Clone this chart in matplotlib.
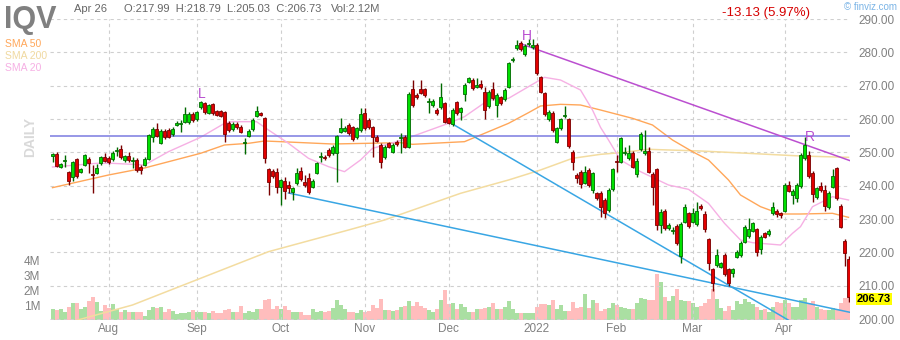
import numpy as np
import pandas as pd
import matplotlib
matplotlib.use('Agg')
import matplotlib.pyplot as plt
from matplotlib.ticker import FormatStrFormatter

plt.rcParams['font.family'] = ['Liberation Sans', 'DejaVu Sans']

# trading days shown on the chart
holidays = ['2021-09-06', '2021-11-25', '2021-12-24', '2022-01-17', '2022-02-21', '2022-04-15']
dates = pd.bdate_range('2021-07-13', '2022-04-26', freq='C', holidays=holidays)

# daily candles
opens = [248.9, 249.5, 245.5, 247.3, 244.1, 242.7, 247.9, 244.2, 246.2, 247.9,
         243.4, 243.9, 246.7, 248.7, 248.3, 247.9, 250.4, 250.9, 247.7, 248.9,
         247.3, 247.7, 245.5, 246.2, 248.0, 254.7, 256.9, 252.9, 256.5, 256.7,
         255.4, 258.2, 258.6, 259.2, 259.0, 261.5, 259.9, 263.5, 264.7, 261.9,
         264.5, 262.3, 262.3, 262.0, 258.9, 256.9, 258.6, 257.7, 252.7, 254.9,
         256.9, 261.0, 261.7, 260.2, 244.9, 244.5, 244.2, 239.7, 241.4, 240.2,
         238.2, 240.7, 244.5, 241.2, 242.2, 239.7, 243.9, 248.6, 248.7, 250.7,
         249.7, 249.9, 256.2, 256.4, 258.2, 257.5, 254.5, 256.7, 261.7, 259.7,
         257.5, 254.7, 252.2, 248.5, 252.7, 250.2, 253.2, 254.4, 254.7, 251.7,
         268.9, 267.2, 268.9, 268.9, 265.1, 264.2, 262.7, 263.5, 264.7, 260.2,
         258.5, 265.0, 262.2, 267.5, 271.2, 271.7, 269.7, 270.4, 268.2, 263.9,
         268.9, 264.2, 266.5, 266.0, 269.7, 277.7, 281.2, 282.9, 279.4, 282.4,
         281.5, 282.2, 272.5, 267.7, 259.9, 261.9, 253.2, 257.2, 260.8, 259.9,
         250.2, 243.2, 244.2, 240.9, 244.7, 238.7, 237.7, 237.9, 235.7, 232.7,
         238.9, 247.4, 247.2, 249.7, 248.2, 249.9, 243.5, 250.9, 249.7, 250.5,
         243.5, 244.9, 228.2, 232.4, 227.2, 226.4, 227.9, 218.9, 229.2, 231.7,
         229.2, 228.5, 233.9, 231.4, 223.9, 214.9, 216.2, 215.7, 219.2, 214.9,
         213.9, 218.7, 219.2, 223.2, 224.9, 226.5, 226.9, 220.9, 225.7, 225.5,
         231.7, 232.5, 231.7, 232.5, 240.2, 237.2, 236.2, 239.9, 248.2, 249.2,
         243.9, 236.5, 239.9, 238.7, 233.5, 239.7, 245.2, 233.9, 223.5, 217.99]
highs = [249.9, 250.0, 246.7, 249.2, 244.5, 247.5, 248.3, 245.3, 249.5, 248.5,
         246.2, 246.5, 249.0, 249.7, 249.0, 250.5, 251.7, 252.2, 249.3, 250.0,
         248.7, 248.2, 246.2, 248.7, 255.6, 257.7, 258.7, 257.0, 257.0, 257.2,
         257.5, 259.3, 259.7, 263.7, 262.0, 262.0, 262.5, 265.3, 265.0, 264.6,
         264.9, 262.8, 262.8, 262.5, 259.5, 259.0, 259.0, 258.2, 254.2, 256.9,
         260.2, 264.0, 262.2, 260.7, 245.3, 245.0, 245.2, 242.0, 242.7, 241.5,
         239.7, 245.2, 245.5, 243.2, 243.7, 242.0, 247.2, 250.2, 249.2, 251.2,
         252.2, 255.2, 260.2, 257.9, 258.7, 258.0, 257.7, 263.2, 263.2, 260.2,
         258.0, 255.2, 252.7, 252.2, 253.2, 252.7, 253.7, 255.7, 255.2, 268.0,
         271.7, 267.7, 271.7, 269.4, 266.2, 265.9, 263.2, 270.7, 265.2, 260.7,
         263.2, 265.5, 263.7, 270.7, 272.7, 272.2, 272.2, 271.7, 269.7, 268.7,
         271.2, 267.7, 267.0, 269.2, 277.2, 278.6, 283.7, 283.4, 282.5, 284.0,
         284.0, 282.7, 273.0, 268.2, 262.7, 262.4, 257.7, 260.4, 263.9, 260.4,
         250.7, 243.7, 244.7, 246.0, 245.2, 244.2, 238.2, 238.4, 236.2, 239.2,
         245.4, 249.2, 254.7, 251.7, 252.2, 250.4, 248.2, 256.2, 256.7, 251.7,
         244.0, 245.4, 233.0, 233.0, 228.7, 227.5, 228.4, 229.2, 234.5, 232.2,
         233.2, 235.2, 234.5, 232.5, 224.4, 215.4, 221.0, 217.2, 219.7, 215.4,
         215.4, 220.7, 223.4, 228.2, 230.2, 229.2, 227.4, 225.2, 226.2, 227.0,
         235.2, 233.0, 232.2, 240.7, 241.5, 239.0, 240.7, 249.7, 254.5, 250.5,
         244.4, 239.7, 241.0, 240.2, 238.4, 244.9, 245.7, 234.4, 223.9, 218.79]
lows = [247.2, 245.5, 245.2, 245.5, 240.2, 241.5, 242.3, 243.8, 245.9, 243.7,
        237.9, 243.4, 246.2, 247.2, 246.5, 247.5, 249.0, 247.9, 247.0, 247.2,
        245.2, 244.2, 243.5, 245.8, 247.7, 253.2, 254.5, 252.5, 254.0, 254.2,
        255.0, 257.8, 256.2, 258.8, 258.5, 259.2, 259.5, 263.0, 261.5, 261.5,
        261.3, 260.8, 260.5, 253.2, 256.2, 256.3, 257.0, 255.7, 249.5, 254.5,
        256.5, 260.5, 260.9, 246.9, 237.2, 242.4, 237.7, 234.2, 236.0, 237.9,
        235.7, 240.2, 241.5, 239.7, 237.5, 239.2, 243.5, 247.2, 247.7, 248.7,
        249.2, 241.2, 255.7, 256.0, 255.2, 253.4, 254.0, 256.2, 256.7, 257.0,
        248.7, 253.0, 245.2, 248.0, 251.2, 249.7, 252.0, 249.7, 251.2, 251.2,
        263.7, 266.0, 267.4, 266.7, 261.7, 263.7, 261.2, 263.0, 258.7, 258.4,
        258.0, 261.2, 259.7, 265.5, 270.7, 268.7, 269.2, 269.0, 259.9, 263.4,
        265.7, 260.7, 264.2, 265.5, 269.2, 277.2, 280.7, 280.4, 279.0, 281.9,
        281.0, 273.2, 267.7, 260.9, 259.4, 256.2, 252.7, 256.7, 260.2, 251.4,
        244.7, 240.7, 239.2, 240.4, 239.7, 237.7, 235.7, 230.7, 230.2, 232.2,
        238.4, 244.2, 246.7, 249.2, 247.7, 245.2, 242.7, 250.4, 249.2, 243.7,
        234.2, 226.7, 225.7, 226.7, 226.7, 225.5, 222.2, 216.7, 228.7, 227.4,
        228.7, 228.0, 232.7, 226.2, 214.7, 208.5, 215.7, 215.2, 213.0, 209.9,
        212.5, 218.2, 218.7, 222.7, 224.4, 226.0, 219.0, 219.4, 224.2, 225.0,
        231.2, 230.7, 230.4, 232.0, 238.0, 234.5, 235.0, 239.4, 247.7, 242.4,
        235.0, 236.0, 238.2, 232.5, 233.0, 239.2, 235.7, 227.2, 216.0, 205.03]
closes = [249.5, 246.0, 246.4, 247.6, 241.5, 247.2, 242.9, 244.9, 249.2, 246.9,
          243.2, 245.2, 248.5, 247.5, 247.0, 249.9, 250.6, 248.5, 248.9, 247.7,
          247.5, 244.7, 244.7, 248.0, 255.2, 256.9, 254.9, 256.5, 254.5, 254.7,
          256.9, 258.9, 258.8, 261.4, 261.4, 259.7, 262.0, 265.0, 262.0, 264.2,
          261.7, 261.3, 260.9, 255.4, 256.7, 258.5, 257.5, 256.2, 253.2, 256.4,
          259.7, 262.4, 261.3, 248.2, 241.2, 242.9, 239.7, 241.7, 238.4, 239.2,
          239.2, 243.9, 241.9, 240.2, 238.2, 241.5, 246.7, 248.8, 248.2, 249.2,
          251.7, 254.9, 257.2, 257.4, 255.7, 253.9, 257.2, 261.4, 257.2, 257.5,
          254.5, 253.5, 247.2, 251.7, 251.7, 252.2, 252.4, 254.6, 251.7, 267.5,
          264.2, 266.5, 267.9, 267.2, 265.3, 265.4, 261.7, 266.5, 259.2, 258.9,
          262.7, 261.7, 263.2, 270.2, 272.2, 269.2, 270.2, 269.5, 262.7, 268.2,
          266.2, 267.2, 264.7, 268.7, 276.7, 278.1, 282.2, 280.9, 282.0, 282.6,
          282.2, 273.7, 268.2, 261.4, 262.2, 256.7, 257.2, 259.9, 261.0, 251.9,
          247.2, 242.2, 240.5, 244.2, 240.2, 243.7, 236.2, 233.7, 231.7, 238.7,
          244.9, 247.0, 254.2, 250.2, 249.9, 245.7, 247.4, 255.5, 250.5, 244.2,
          239.7, 228.2, 232.2, 227.2, 228.2, 226.6, 222.7, 228.5, 233.7, 227.9,
          231.9, 232.4, 233.2, 226.9, 216.7, 210.9, 219.2, 216.7, 213.5, 210.9,
          214.9, 220.2, 222.9, 227.7, 226.9, 228.7, 220.2, 224.7, 224.7, 226.5,
          233.5, 231.5, 231.2, 240.2, 238.5, 238.5, 240.2, 249.2, 252.2, 242.9,
          237.5, 239.2, 238.7, 233.9, 237.9, 242.9, 236.2, 227.7, 219.86, 206.73]
volume_m = [0.71, 0.64, 0.71, 0.51, 0.89, 1.11, 1.11, 0.71, 0.84, 1.24,
            1.51, 1.18, 0.58, 0.98, 0.78, 1.04, 0.71, 0.51, 0.64, 0.51,
            0.51, 0.51, 0.51, 0.24, 0.64, 0.84, 0.78, 0.84, 0.51, 0.71,
            0.58, 0.38, 0.44, 0.44, 0.51, 0.64, 0.51, 0.51, 0.51, 0.44,
            0.58, 0.44, 0.44, 0.64, 0.71, 0.51, 0.51, 0.91, 0.44, 0.58,
            0.51, 0.71, 0.71, 1.31, 1.38, 0.71, 0.91, 0.71, 0.91, 0.64,
            0.51, 0.51, 0.51, 0.31, 0.31, 0.71, 0.51, 0.58, 0.51, 0.58,
            0.78, 1.31, 0.98, 0.71, 0.51, 0.51, 0.44, 0.64, 0.51, 0.58,
            0.98, 0.78, 1.38, 0.64, 0.64, 0.58, 0.64, 0.84, 0.91, 1.24,
            0.91, 1.18, 0.91, 0.78, 0.64, 0.51, 0.71, 1.31, 1.98, 1.04,
            1.11, 0.71, 1.04, 0.84, 0.51, 0.53, 0.76, 0.76, 0.80, 0.87,
            1.16, 0.76, 0.76, 0.89, 1.27, 0.71, 0.49, 0.44, 0.44, 0.44,
            0.44, 0.89, 1.04, 1.04, 0.98, 1.33, 0.76, 0.98, 0.60, 0.60,
            1.20, 0.82, 0.89, 1.71, 0.82, 1.33, 1.16, 0.60, 0.71, 0.82,
            1.11, 0.98, 0.89, 0.80, 0.71, 0.71, 1.11, 1.44, 1.38, 1.33,
            1.33, 3.04, 2.53, 1.53, 1.27, 1.60, 2.04, 1.33, 1.27, 1.27,
            1.11, 0.89, 0.93, 1.11, 1.38, 2.04, 1.42, 0.82, 0.60, 0.93,
            0.67, 1.27, 1.04, 1.38, 1.20, 1.04, 0.89, 0.67, 0.71, 0.53,
            0.89, 1.20, 1.16, 1.33, 1.11, 0.89, 0.89, 1.33, 1.49, 1.11,
            1.27, 0.89, 0.71, 0.67, 0.67, 0.80, 0.71, 1.11, 1.47, 2.12]

# moving averages, sampled along the lines (trading-day index, price)
sma20_idx = [0, 11, 15, 23, 29, 37, 43, 45, 51, 54, 59, 64, 69, 73, 77, 80, 87, 99, 103,
             109, 114, 119, 123, 127, 132, 135, 137, 139, 142, 147, 154, 159, 164, 168,
             172, 175, 182, 185, 187, 190, 195, 199]
sma20_val = [245.6, 246.7, 246.7, 246.2, 250.2, 254.5, 258.7, 259.2, 259.2, 256.7, 252.7,
             248.2, 245.7, 244.2, 247.7, 251.2, 253.5, 258.7, 260.7, 265.7, 266.2, 269.7,
             272.5, 271.7, 268.7, 262.7, 257.5, 253.7, 247.7, 244.2, 240.2, 238.9, 234.7,
             228.7, 223.7, 222.9, 222.2, 225.7, 227.7, 233.7, 236.7, 235.7]
sma50_idx = [0, 14, 23, 37, 43, 49, 53, 57, 70, 87, 90, 103, 107, 114, 119, 122, 127,
             132, 137, 145, 150, 155, 160, 164, 169, 172, 177, 182, 187, 195, 199]
sma50_val = [239.4, 243.2, 245.3, 249.7, 252.2, 252.7, 253.4, 253.2, 252.5, 252.9, 252.4,
             253.2, 255.2, 258.7, 261.9, 263.9, 264.4, 264.2, 262.7, 260.2, 258.2, 253.7,
             250.2, 247.7, 241.7, 237.2, 233.7, 231.5, 231.5, 231.7, 230.5]
sma200_idx = [6, 20, 37, 54, 74, 83, 102, 114, 122, 130, 137, 142, 149, 162, 174, 187, 199]
sma200_val = [199.6, 204.2, 212.2, 220.2, 226.7, 229.7, 237.7, 241.7, 244.7, 248.2,
              249.4, 249.9, 250.9, 250.4, 249.7, 248.9, 248.5]

# drawn trend lines: (start index, start price, end index, end price)
resist_line = (117.0, 282.6, 199.4, 247.5)
support_fast = (100.0, 258.5, 185.5, 198.6)
support_slow = (59.0, 237.8, 199.4, 202.0)
level_line = 255.0

opens = np.array(opens)
highs = np.array(highs)
lows = np.array(lows)
closes = np.array(closes)
volume = np.array(volume_m) * 1e6
idx = np.arange(len(dates))
up = closes >= opens

fig = plt.figure(figsize=(9, 3.4), dpi=100)
rect = [50 / 900, 20 / 340, 800 / 900, 301 / 340]
ax_vol = fig.add_axes(rect)
ax = fig.add_axes(rect, sharex=ax_vol)
ax.patch.set_visible(False)

# volume underneath
ax_vol.bar(idx, volume, width=1.0, color=np.where(up, '#aadfa2', '#ffbdbd'), linewidth=0)
ax_vol.set_ylim(0, 20.07e6)
ax_vol.set_yticks([1e6, 2e6, 3e6, 4e6])
ax_vol.set_yticklabels(['1M', '2M', '3M', '4M'])
ax_vol.tick_params(axis='y', length=0, pad=7, labelsize=8.5, labelcolor='#808080')
ax_vol.tick_params(axis='x', bottom=False, labelbottom=False)
for s in ax_vol.spines.values():
    s.set_visible(False)

# grid
ax.set_axisbelow(True)
ax.grid(True, color='#cfcfcf', linestyle=(0, (3, 3)), linewidth=0.8)

# moving averages
ax.plot(sma200_idx, sma200_val, color='#f3dca0', lw=1.1, zorder=2)
ax.plot(sma50_idx, sma50_val, color='#ffa75a', lw=1.0, zorder=2)
ax.plot(sma20_idx, sma20_val, color='#f6b0e4', lw=1.0, zorder=2)

# trend lines
ax.axhline(level_line, color='#7b7be0', lw=1.1, zorder=2)
for line, col in [(resist_line, '#bb4fd0'), (support_fast, '#39a6e4'), (support_slow, '#39a6e4')]:
    ax.plot([line[0], line[2]], [line[1], line[3]], color=col, lw=1.1, zorder=2)

# candles
edge = np.where(up, '#006a00', '#7a0000')
ax.vlines(idx, lows, highs, colors=edge, lw=1.0, zorder=3)
body_lo = np.minimum(opens, closes)
body_h = np.maximum(np.abs(closes - opens), 0.3)
ax.bar(idx, body_h, bottom=body_lo, width=0.78, color=np.where(up, '#00e000', '#e20000'),
       edgecolor=edge, linewidth=0.6, zorder=4)

# pattern labels
ax.text(37.2, 267.5, 'L', color='#b84fd0', fontsize=10, ha='center', va='center')
ax.text(118.5, 285.0, 'H', color='#b84fd0', fontsize=10, ha='center', va='center')
ax.text(189.4, 254.5, 'R', color='#b84fd0', fontsize=10, ha='center', va='center')

ax.set_xlim(-0.625, 199.375)
ax.set_ylim(199.7, 290)
ax.yaxis.tick_right()
ax.set_yticks(np.arange(200, 291, 10))
ax.yaxis.set_major_formatter(FormatStrFormatter('%.2f'))
ax.tick_params(axis='y', length=0, pad=6, labelsize=8.5, labelcolor='#808080')

month_pos = [i for i in range(1, len(dates)) if dates[i].month != dates[i - 1].month]
month_lab = [str(dates[i].year) if dates[i].month == 1 else dates[i].strftime('%b') for i in month_pos]
ax.set_xticks(month_pos)
ax.set_xticklabels(month_lab)
ax.tick_params(axis='x', length=0, pad=2, labelsize=8.5, labelcolor='#808080')
for s in ax.spines.values():
    s.set_visible(False)

# last price tag
ax.annotate(f'{closes[-1]:.2f}', xy=(1, closes[-1]), xycoords=('axes fraction', 'data'),
            xytext=(5, -1.5), textcoords='offset points', ha='left', va='center',
            fontsize=8, fontweight='bold', color='black',
            bbox=dict(boxstyle='square,pad=0.08', fc='#ffff00', ec='none'))

# header
def fy(y):
    return 1 - y / 340

fig.text(4 / 900, fy(28), 'IQV', fontsize=22, fontweight='bold', color='#808080', va='baseline')
fig.text(74 / 900, fy(12), dates[-1].strftime('%b %d'), fontsize=8, color='#666666', va='baseline')
fig.text(124 / 900, fy(12),
         f'O:{opens[-1]:.2f}  H:{highs[-1]:.2f}  L:{lows[-1]:.2f}  C:{closes[-1]:.2f}',
         fontsize=8, color='#666666', va='baseline')
fig.text(331 / 900, fy(12), f'Vol:{volume_m[-1]:.2f}M', fontsize=8, color='#666666', va='baseline')
chg = closes[-1] - closes[-2]
fig.text(722 / 900, fy(16), f'{chg:.2f} ({abs(chg) / closes[-2] * 100:.2f}%)',
         fontsize=9.5, color='#d60000', va='baseline')
fig.text(897 / 900, fy(7), '\u00a9 finviz.com', fontsize=7, color='#7ab4e6', ha='right', va='center')
fig.text(5 / 900, fy(44), 'SMA 50', fontsize=7.5, color='#ffa75a', va='center')
fig.text(5 / 900, fy(56), 'SMA 200', fontsize=7.5, color='#f0d9a0', va='center')
fig.text(5 / 900, fy(68), 'SMA 20', fontsize=7.5, color='#f6b0e4', va='center')
fig.text(30 / 900, fy(137), 'DAILY', fontsize=10, fontweight='bold', color='#d9d9d9',
         rotation=90, ha='center', va='center')

fig.savefig('out.png', dpi=100)
